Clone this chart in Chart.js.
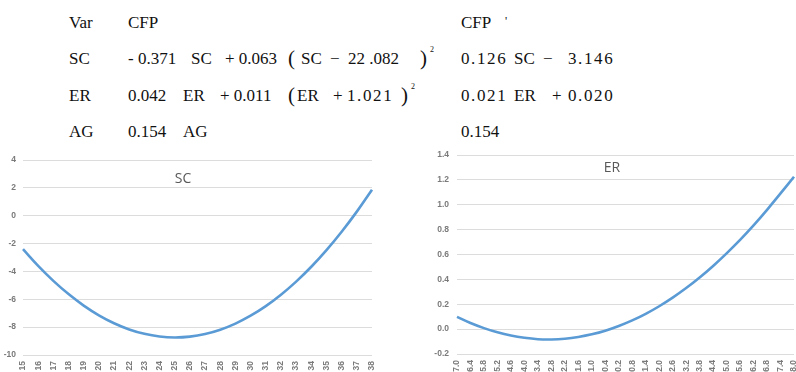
<!DOCTYPE html>
<html>
<head>
<meta charset="utf-8">
<script src="https://cdn.jsdelivr.net/npm/chart.js@4"></script>
<style>
  html, body { margin: 0; padding: 0; background: #fff; }
  #page { position: relative; width: 796px; height: 372px; overflow: hidden; background: #fff; }
  .t { position: absolute; font-family: "Liberation Serif", "DejaVu Serif", serif; font-size: 17px; line-height: 20px; color: #111; white-space: pre; }
  .sp { letter-spacing: 1.6px; }
  .par { font-size: 21px; line-height: 20px; }
  .sup { font-size: 8px; line-height: 10px; }
  .ttl { position: absolute; font-family: "Open Sans", "Liberation Sans", sans-serif; font-size: 14px; color: #595959; transform: translate(-50%, -50%); }
  .box { position: absolute; }
</style>
</head>
<body>
<div id="page">
  <!-- header row -->
  <span class="t" style="left:69px;top:13px">Var</span>
  <span class="t" style="left:128px;top:13px">CFP</span>
  <span class="t" style="left:461px;top:13px">CFP</span>
  <span class="t" style="left:505px;top:11px;font-size:12px">'</span>

  <!-- SC row -->
  <span class="t" style="left:69px;top:49px">SC</span>
  <span class="t" style="left:128px;top:49px">- 0.371</span>
  <span class="t" style="left:191px;top:49px">SC</span>
  <span class="t" style="left:225px;top:49px">+ 0.063</span>
  <span class="t par" style="left:288px;top:48px">(</span>
  <span class="t" style="left:301px;top:49px">SC</span>
  <span class="t" style="left:330px;top:49px">−</span>
  <span class="t" style="left:348px;top:49px">22 .082</span>
  <span class="t par" style="left:420px;top:48px">)</span>
  <span class="t sup" style="left:430px;top:45px">2</span>
  <span class="t sp" style="left:461px;top:49px">0.126</span>
  <span class="t" style="left:514px;top:49px">SC</span>
  <span class="t" style="left:543px;top:49px">−</span>
  <span class="t sp" style="left:568px;top:49px">3.146</span>

  <!-- ER row -->
  <span class="t" style="left:69px;top:86px">ER</span>
  <span class="t" style="left:128px;top:86px">0.042</span>
  <span class="t" style="left:183px;top:86px">ER</span>
  <span class="t" style="left:220px;top:86px">+ 0.011</span>
  <span class="t par" style="left:288px;top:85px">(</span>
  <span class="t" style="left:297px;top:86px">ER</span>
  <span class="t" style="left:333px;top:86px">+</span>
  <span class="t sp" style="left:347px;top:86px">1.021</span>
  <span class="t par" style="left:401px;top:85px">)</span>
  <span class="t sup" style="left:411px;top:82px">2</span>
  <span class="t sp" style="left:461px;top:86px">0.021</span>
  <span class="t" style="left:514px;top:86px">ER</span>
  <span class="t" style="left:552px;top:86px">+</span>
  <span class="t sp" style="left:568px;top:86px">0.020</span>

  <!-- AG row -->
  <span class="t" style="left:69px;top:122px">AG</span>
  <span class="t" style="left:128px;top:122px">0.154</span>
  <span class="t" style="left:183px;top:122px">AG</span>
  <span class="t" style="left:461px;top:122px">0.154</span>

  <div class="box" style="left:0px;top:150px;width:380px;height:222px"><canvas id="scChart"></canvas></div>
  <div class="box" style="left:400px;top:150px;width:396px;height:222px"><canvas id="erChart"></canvas></div>

  <div class="ttl" style="left:183px;top:177px">SC</div>
  <div class="ttl" style="left:612px;top:166px">ER</div>
</div>

<script>
// ---- data ----
const scLabels = ['15','16','17','18','19','20','21','22','23','24','25','26','27','28','29','30','31','32','33','34','35','36','37','38'];
const scValues = [-2.405, -3.606, -4.680, -5.628, -6.451, -7.147, -7.717, -8.162, -8.480, -8.672, -8.739, -8.679, -8.493, -8.182, -7.744, -7.180, -6.491, -5.675, -4.733, -3.666, -2.472, -1.152, 0.293, 1.865];
const scTicks = [4, 2, 0, -2, -4, -6, -8, -10];

const erLabels = ['-7.0','-6.4','-5.8','-5.2','-4.6','-4.0','-3.4','-2.8','-2.2','-1.6','-1.0','-0.4','0.2','0.8','1.4','2.0','2.6','3.2','3.8','4.4','5.0','5.6','6.2','6.8','7.4','8.0'];
const erValues = [0.099, 0.049, 0.008, -0.026, -0.052, -0.070, -0.081, -0.083, -0.077, -0.063, -0.042, -0.013, 0.025, 0.070, 0.123, 0.184, 0.253, 0.330, 0.415, 0.508, 0.609, 0.717, 0.834, 0.959, 1.091, 1.225];
const erTicks = [1.4, 1.2, 1.0, 0.8, 0.6, 0.4, 0.2, 0.0, -0.2];

function makeChart(id, labels, values, ticks, cfg) {
  const yMin = Math.min(...ticks), yMax = Math.max(...ticks);
  const step = Math.abs(ticks[0] - ticks[1]);
  return new Chart(document.getElementById(id), {
    type: 'line',
    data: {
      labels: labels,
      datasets: [{
        data: values,
        borderColor: '#5b9bd5',
        borderWidth: 2.6,
        pointRadius: 0,
        tension: 0.4,
        fill: false
      }]
    },
    options: {
      responsive: true,
      maintainAspectRatio: false,
      animation: false,
      events: [],
      layout: { padding: { top: cfg.padTop, right: cfg.padRight, left: 0, bottom: 0 } },
      plugins: { legend: { display: false }, tooltip: { enabled: false }, title: { display: false } },
      scales: {
        x: {
          offset: false,
          grid: { display: false, drawTicks: false },
          border: { display: false },
          ticks: {
            autoSkip: false, minRotation: 90, maxRotation: 90, padding: 6,
            color: '#7a7a7a', font: { family: 'Liberation Sans', size: 8.5, weight: 'bold' }
          },
          afterFit: s => { s.height = cfg.xHeight; s.paddingLeft = 0; s.paddingRight = 0; }
        },
        y: {
          min: yMin, max: yMax,
          grid: { color: '#dcdcdc', lineWidth: 1, drawTicks: false },
          border: { display: false },
          ticks: {
            stepSize: step, padding: cfg.yPad,
            color: '#7a7a7a', font: { family: 'Liberation Sans', size: 8.5, weight: 'bold' },
            callback: v => {
              const n = Math.abs(v) < 1e-9 ? 0 : Number(v);
              return cfg.decimals ? n.toFixed(cfg.decimals) : String(Math.round(n));
            }
          },
          afterFit: s => { s.width = cfg.yWidth; s.paddingTop = 0; s.paddingBottom = 0; }
        }
      }
    }
  });
}

makeChart('scChart', scLabels, scValues, scTicks, { padTop: 10, padRight: 8, xHeight: 17, yWidth: 23, yPad: 7, decimals: 0 });
makeChart('erChart', erLabels, erValues, erTicks, { padTop: 5, padRight: 2, xHeight: 18, yWidth: 57, yPad: 8, decimals: 1 });
</script>
</body>
</html>
